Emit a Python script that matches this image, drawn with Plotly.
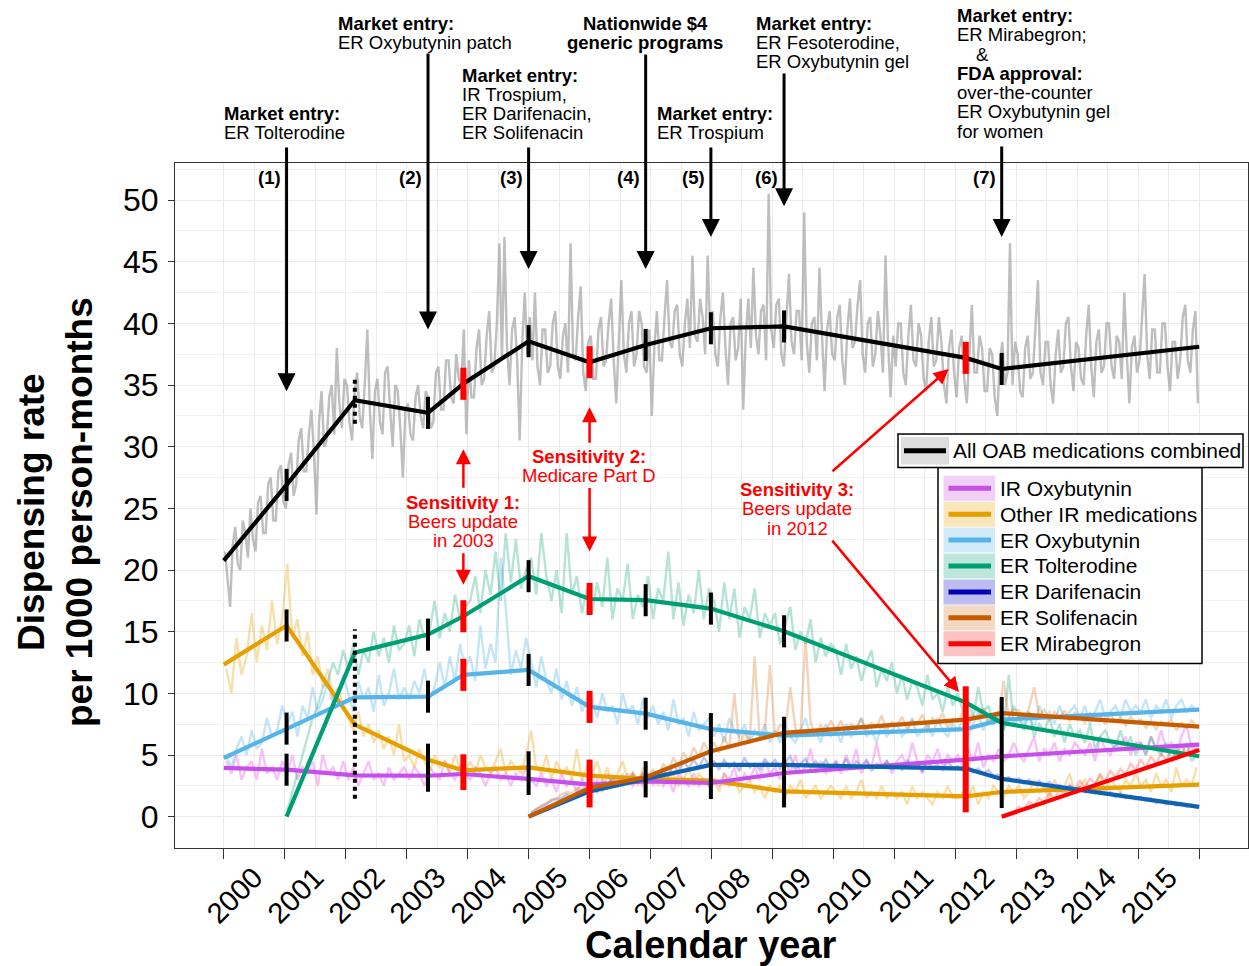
import plotly.graph_objects as go

FONT = "Liberation Sans, Arial, Helvetica, sans-serif"

# ---------------------------------------------------------------------------
# Segment boundaries of the segmented-regression fit (decimal calendar year)
# ---------------------------------------------------------------------------
breaks = [2000.0, 2001.03, 2002.15, 2003.35, 2003.93, 2005.0, 2006.0,
          2006.92, 2007.99, 2009.19, 2012.17, 2012.76, 2016.0]
break_kind = ["edge", "event", "dotted", "event", "sens", "event", "sens",
              "event", "event", "event", "sens", "event", "edge"]

# fitted dispensing rate at each boundary (None = product not yet marketed)
fit_all = [20.76, 26.9, 33.76, 32.74, 35.1, 38.55, 36.85, 38.25, 39.6, 39.75, 37.2, 36.3, 38.1]
fit_ir_oxy = [3.95, 3.81, 3.35, 3.32, 3.46, 3.06, 2.6, 2.86, 2.73, 3.54, 4.62, 4.89, 5.84]
fit_other_ir = [12.33, 15.5, 7.46, 4.62, 3.76, 4.0, 3.33, 3.06, 2.92, 2.05, 1.65, 2.0, 2.6]
fit_er_oxy = [4.76, 7.14, 9.68, 9.73, 11.5, 11.9, 8.9, 8.35, 7.1, 6.57, 7.1, 7.87, 8.68]
fit_er_tolt = [None, 0.0, 13.3, 14.76, 16.25, 19.5, 17.65, 17.55, 16.87, 15.03, 9.27, 7.6, 4.9]
fit_er_darif = [None, None, None, None, None, 0.0, 2.05, 3.06, 4.2, 4.2, 3.9, 3.06, 0.79]
fit_er_solif = [None, None, None, None, None, 0.0, 2.33, 3.2, 5.3, 6.8, 7.87, 8.4, 7.3]
fit_er_mira = [None, None, None, None, None, None, None, None, None, None, None, 0.0, 5.4]

# ---------------------------------------------------------------------------
# Observed dispensing rates per 1000 person-months
# ---------------------------------------------------------------------------
# all OAB medications: two observations per month, January 2000 onwards
all_oab_semimonthly = [
    21.5, 19.5, 17.0, 22.0, 23.5, 20.5, 20.0, 24.0, 23.0, 21.0, 25.0, 22.5,
    21.5, 25.5, 26.0, 23.0, 23.0, 27.0, 27.5, 24.0, 24.0, 28.0, 28.5, 25.5,
    25.0, 28.5, 29.5, 26.0, 27.0, 30.5, 31.5, 28.0, 28.0, 31.0, 33.0, 29.5,
    24.5, 32.0, 34.5, 30.0, 30.5, 34.0, 35.0, 31.0, 38.0, 33.5, 31.5, 35.5,
    35.0, 32.0, 30.5, 34.5, 36.0, 32.5, 31.5, 35.0, 39.5, 33.0, 29.0, 34.5,
    35.5, 32.0, 31.0, 36.0, 36.5, 33.0, 30.0, 35.0, 34.5, 31.5, 27.5, 33.0,
    33.5, 31.0, 30.5, 34.0, 35.0, 32.5, 31.5, 34.5, 34.0, 31.5, 32.0, 36.0,
    36.5, 33.0, 33.0, 37.0, 37.0, 34.0, 33.5, 37.5, 35.5, 35.0, 39.5, 31.0,
    37.0, 34.0, 34.0, 38.0, 39.5, 35.0, 35.5, 39.0, 41.0, 36.0, 36.5, 40.0,
    46.5, 37.0, 47.0, 38.0, 35.0, 39.5, 40.5, 37.0, 30.5, 38.5, 42.5, 37.5,
    40.5, 37.0, 42.5, 36.5, 35.0, 39.5, 39.5, 36.0, 36.5, 40.0, 41.0, 36.5,
    35.5, 39.0, 40.0, 36.0, 46.5, 37.5, 37.0, 40.5, 43.0, 36.0, 34.5, 38.5,
    39.0, 35.5, 35.5, 39.5, 40.5, 36.5, 37.0, 40.0, 42.0, 37.0, 33.5, 38.5,
    43.5, 37.5, 36.0, 40.0, 41.0, 36.5, 37.5, 41.0, 40.0, 36.5, 36.0, 39.5,
    32.5, 38.0, 41.0, 37.0, 37.0, 40.5, 43.5, 38.5, 38.0, 41.0, 41.5, 37.5,
    36.5, 40.0, 42.0, 38.0, 45.5, 39.0, 38.5, 42.0, 40.5, 37.5, 45.5, 39.0,
    41.0, 37.5, 36.5, 40.5, 42.5, 38.0, 35.0, 40.0, 40.5, 37.0, 38.0, 42.0,
    33.0, 39.0, 42.0, 38.0, 44.5, 39.0, 37.5, 41.0, 41.5, 37.0, 50.5, 39.5,
    38.0, 41.5, 42.0, 37.5, 36.5, 40.5, 44.0, 38.5, 37.5, 41.0, 41.0, 37.0,
    49.0, 38.5, 36.0, 40.0, 40.5, 37.0, 44.5, 39.0, 34.5, 39.5, 41.0, 37.5,
    37.0, 40.5, 41.5, 37.0, 35.0, 39.5, 42.0, 38.0, 38.5, 41.5, 43.5, 37.5,
    36.0, 40.0, 40.5, 36.5, 37.5, 41.0, 39.0, 36.0, 45.5, 38.5, 34.0, 39.0,
    36.5, 40.0, 40.0, 36.0, 35.0, 39.0, 41.5, 37.0, 36.5, 40.0, 39.0, 35.5,
    34.5, 38.5, 40.5, 36.5, 37.0, 40.5, 38.5, 35.0, 33.5, 38.0, 39.5, 36.0,
    34.0, 38.0, 39.0, 35.5, 33.5, 37.5, 41.5, 36.0, 36.0, 39.0, 38.0, 34.5,
    34.5, 38.0, 37.5, 34.0, 32.5, 37.0, 38.5, 35.0, 36.0, 46.5, 35.0, 38.5,
    37.5, 34.5, 34.0, 38.0, 39.0, 35.5, 36.0, 39.5, 43.5, 36.0, 35.0, 38.5,
    38.5, 35.0, 33.5, 37.5, 39.5, 36.0, 36.5, 40.0, 40.5, 36.5, 34.5, 38.5,
    38.0, 35.5, 35.0, 39.0, 41.5, 36.5, 34.0, 38.5, 39.5, 36.0, 36.5, 40.0,
    40.0, 36.5, 35.5, 39.0, 38.5, 35.5, 42.5, 37.5, 33.5, 38.0, 39.0, 36.0,
    37.0, 40.5, 44.0, 37.5, 35.5, 39.5, 39.5, 36.0, 36.0, 40.0, 40.0, 36.5,
    34.5, 38.5, 38.5, 35.5, 37.0, 40.5, 41.5, 37.0, 36.0, 39.5, 41.0, 33.5,
]
# single products: one observation per month
ir_oxy_monthly = [
    4.5, 3.5, 5.0, 3.0, 4.0, 4.5, 3.0, 5.5, 3.5, 4.0, 3.0, 4.5,
    3.5, 5.0, 3.0, 4.0, 3.5, 4.5, 2.5, 5.0, 3.5, 4.0, 3.0, 4.5,
    3.0, 4.0, 2.5, 3.5, 4.5, 3.0, 3.5, 2.5, 4.0, 3.0, 3.5, 4.0,
    3.0, 4.0, 3.5, 2.5, 4.0, 3.5, 3.0, 4.5, 3.5, 3.0, 4.0, 3.5,
    3.0, 4.0, 3.5, 2.5, 3.5, 4.0, 3.0, 3.5, 2.5, 3.5, 3.0, 4.0,
    3.0, 2.5, 3.5, 2.5, 3.0, 2.0, 3.5, 2.5, 3.0, 2.0, 3.0, 2.5,
    2.5, 3.0, 2.0, 3.5, 2.5, 3.0, 2.5, 3.5, 2.5, 3.0, 2.5, 3.5,
    2.5, 3.5, 2.5, 3.0, 2.0, 3.5, 3.0, 2.5, 3.5, 2.5, 3.0, 2.5,
    3.0, 2.5, 3.5, 3.0, 4.0, 2.5, 3.5, 3.0, 4.0, 3.0, 4.5, 3.5,
    4.0, 3.0, 4.5, 3.5, 5.0, 3.5, 4.0, 5.5, 3.5, 4.5, 3.5, 4.0,
    4.5, 3.5, 5.0, 4.0, 5.5, 3.5, 4.5, 4.0, 6.0, 4.0, 4.5, 3.5,
    4.5, 5.0, 4.0, 6.0, 4.5, 3.5, 5.0, 4.5, 5.5, 4.0, 5.0, 4.5,
    5.0, 4.0, 5.5, 4.5, 6.0, 4.0, 5.0, 4.5, 5.5, 4.5, 5.0, 6.0,
    5.0, 4.5, 5.5, 6.5, 4.5, 5.5, 5.0, 6.0, 4.5, 5.5, 5.0, 6.0,
    5.5, 5.0, 6.0, 4.5, 6.5, 5.5, 5.0, 6.0, 5.5, 6.5, 5.0, 6.0,
    6.0, 5.0, 6.5, 5.5, 7.0, 5.5, 6.0, 5.0, 6.5, 7.5, 5.5, 6.0,
]
other_ir_monthly = [
    12.0, 10.0, 14.5, 11.5, 13.0, 16.5, 12.5, 15.5, 13.5, 17.5, 14.0, 16.0,
    20.5, 14.5, 16.0, 13.0, 15.0, 11.5, 13.0, 10.5, 12.0, 9.5, 10.5, 9.0,
    8.0, 7.0, 8.5, 6.5, 7.5, 6.0, 7.0, 5.5, 6.5, 5.0, 7.5, 4.5,
    5.0, 4.0, 5.5, 4.5, 3.5, 5.0, 4.0, 4.5, 3.5, 5.0, 4.0, 3.5,
    4.5, 3.5, 5.0, 4.0, 3.5, 4.5, 5.5, 3.5, 4.5, 4.0, 3.5, 5.0,
    7.0, 4.0, 3.5, 5.0, 3.0, 4.5, 3.5, 4.0, 3.0, 5.5, 3.0, 4.0,
    3.5, 4.5, 3.0, 4.0, 2.5, 3.5, 4.5, 3.0, 3.5, 2.5, 4.0, 3.0,
    3.5, 2.5, 4.0, 3.0, 3.5, 2.5, 3.0, 4.0, 2.5, 3.5, 3.0, 2.5,
    3.0, 2.0, 3.5, 2.5, 3.0, 2.0, 2.5, 3.0, 2.0, 2.5, 1.5, 2.5,
    2.0, 2.5, 1.5, 2.5, 2.0, 3.0, 1.5, 2.0, 2.5, 1.5, 2.0, 2.5,
    2.0, 1.5, 2.5, 1.5, 2.0, 3.0, 1.5, 2.0, 1.5, 2.5, 1.5, 2.0,
    1.5, 2.0, 1.0, 2.5, 1.5, 2.0, 1.5, 1.0, 2.0, 1.5, 2.5, 1.5,
    1.5, 2.0, 1.5, 2.5, 1.0, 2.0, 1.5, 2.5, 2.0, 1.5, 2.5, 2.0,
    2.5, 1.5, 2.0, 3.0, 2.0, 2.5, 1.5, 3.0, 2.0, 2.5, 3.5, 2.0,
    2.5, 3.0, 2.0, 2.5, 3.5, 2.0, 3.0, 2.5, 2.0, 3.0, 2.5, 3.5,
    2.5, 3.0, 2.0, 3.5, 2.5, 3.0, 2.0, 4.0, 2.5, 3.0, 2.5, 4.0,
]
er_oxy_monthly = [
    5.0, 4.0, 5.5, 6.5, 5.0, 7.0, 5.5, 6.0, 8.0, 6.5, 7.0, 9.0,
    7.5, 8.5, 6.5, 9.0, 8.0, 10.5, 8.5, 9.5, 11.0, 9.0, 10.0, 11.5,
    10.0, 8.5, 11.0, 9.5, 10.5, 8.5, 11.5, 9.0, 10.0, 12.0, 9.5, 10.5,
    9.5, 11.0, 10.0, 12.0, 9.5, 10.5, 12.5, 10.5, 13.0, 11.0, 14.0, 12.0,
    13.0, 11.0, 15.5, 12.0, 14.0, 12.5, 21.0, 17.0, 11.5, 13.5, 12.0, 14.5,
    12.5, 10.5, 13.0, 11.0, 10.0, 12.0, 9.5, 11.0, 9.0, 10.5, 8.5, 9.5,
    9.5, 8.0, 10.0, 8.5, 9.0, 7.5, 10.0, 8.5, 9.0, 7.5, 9.5, 8.0,
    9.0, 7.5, 8.5, 7.0, 9.5, 7.5, 8.0, 6.5, 8.5, 7.0, 7.5, 8.0,
    6.5, 7.5, 6.0, 8.0, 7.0, 6.5, 7.5, 6.0, 7.0, 6.5, 7.5, 6.0,
    7.0, 6.0, 7.5, 6.5, 6.0, 7.0, 8.0, 6.5, 7.0, 6.0, 7.5, 6.5,
    7.0, 6.0, 7.5, 6.5, 7.0, 8.0, 6.5, 7.0, 6.0, 7.5, 6.5, 7.0,
    7.5, 6.5, 7.0, 8.0, 6.5, 7.0, 7.5, 6.5, 8.0, 7.0, 6.5, 7.5,
    7.0, 8.0, 6.5, 7.5, 8.5, 7.0, 8.0, 7.5, 8.5, 7.0, 8.0, 9.0,
    8.0, 7.5, 8.5, 7.0, 9.0, 8.0, 8.5, 7.5, 9.0, 8.0, 8.5, 9.0,
    8.0, 9.0, 7.5, 8.5, 9.5, 8.0, 8.5, 9.0, 8.0, 9.5, 8.5, 9.0,
    8.5, 9.5, 8.0, 9.0, 8.5, 9.5, 8.0, 9.0, 9.5, 8.5, 9.0, 8.5,
]
er_tolt_monthly = [  # from January 2001
    0.5, 2.0, 3.5, 5.0, 6.5, 8.0, 9.0, 10.5, 11.0, 12.5, 11.5, 13.5,
    12.0, 14.0, 11.5, 13.5, 12.5, 15.0, 13.0, 14.5, 12.5, 15.5, 13.5, 14.0,
    15.5, 13.0, 16.0, 14.5, 15.0, 17.5, 14.5, 16.5, 15.0, 18.0, 16.0, 17.0,
    17.5, 19.5, 16.5, 20.0, 18.0, 21.5, 17.5, 23.0, 19.0, 22.5, 18.5, 20.0,
    21.0, 18.0, 23.0, 19.5, 17.5, 20.0, 16.5, 23.0, 18.0, 19.5, 16.5, 18.5,
    16.5, 19.0, 17.0, 21.0, 16.0, 18.5, 17.5, 20.5, 16.0, 18.0, 17.0, 19.5,
    16.0, 18.5, 17.5, 21.5, 16.0, 19.0, 15.5, 18.0, 16.5, 20.0, 16.0, 18.5,
    17.5, 15.0, 19.0, 16.0, 18.5, 14.5, 17.0, 16.0, 18.5, 14.5, 16.5, 15.5,
    16.5, 14.0, 15.5, 17.0, 13.5, 15.0, 14.0, 16.0, 12.5, 14.5, 13.0, 14.0,
    13.5, 11.5, 14.0, 12.0, 13.0, 11.0, 12.5, 13.5, 10.5, 12.0, 11.0, 12.5,
    10.0, 11.5, 9.5, 11.0, 10.5, 9.0, 11.5, 9.5, 10.0, 8.5, 10.5, 9.0,
    10.0, 8.5, 9.5, 8.0, 10.5, 8.5, 9.0, 7.5, 8.5, 7.0, 11.5, 7.5,
    8.0, 7.0, 8.5, 6.5, 7.5, 7.0, 8.0, 6.5, 7.5, 6.0, 7.5, 6.5,
    7.0, 6.0, 7.5, 5.5, 6.5, 7.0, 6.0, 5.5, 7.0, 5.5, 6.5, 5.0,
    6.0, 5.0, 6.5, 5.5, 5.0, 6.0, 4.5, 5.5, 5.0, 6.0, 4.5, 5.0,
]
er_darif_monthly = [  # from January 2005
    0.3, 0.6, 0.8, 1.0, 1.3, 1.4, 1.5, 1.8, 1.6, 2.0, 2.1, 2.3,
    2.5, 2.0, 2.8, 2.3, 3.0, 2.5, 3.2, 2.7, 3.4, 2.8, 3.5, 3.0,
    3.5, 3.0, 3.8, 3.3, 4.2, 3.6, 4.5, 3.9, 4.6, 4.0, 4.8, 4.2,
    4.5, 3.8, 4.6, 4.0, 4.4, 3.7, 4.8, 4.0, 4.3, 3.8, 4.7, 4.1,
    4.6, 3.9, 4.4, 4.9, 3.8, 4.3, 4.7, 3.9, 4.5, 4.0, 4.6, 3.8,
    4.4, 4.0, 4.7, 3.8, 4.5, 4.1, 4.6, 3.7, 4.3, 4.0, 4.5, 3.9,
    4.2, 3.8, 4.6, 3.9, 4.3, 3.7, 4.4, 4.0, 4.2, 3.8, 4.5, 3.9,
    4.1, 3.7, 4.2, 3.6, 3.9, 3.5, 3.8, 3.3, 3.4, 3.0, 3.2, 2.9,
    3.1, 2.7, 3.0, 2.6, 2.9, 2.5, 2.8, 2.4, 2.6, 2.3, 2.5, 2.2,
    2.4, 2.0, 2.3, 1.9, 2.1, 1.8, 2.0, 1.6, 1.9, 1.5, 1.7, 1.4,
    1.6, 1.3, 1.5, 1.1, 1.3, 1.0, 1.2, 0.9, 1.1, 0.8, 1.0, 0.7,
]
er_solif_monthly = [  # from January 2005
    0.3, 0.6, 0.9, 1.1, 1.4, 1.5, 1.8, 2.0, 1.9, 2.3, 2.2, 2.6,
    2.8, 2.3, 3.0, 2.5, 3.2, 2.7, 3.4, 2.8, 3.6, 3.0, 3.5, 3.3,
    3.8, 3.2, 4.3, 3.7, 4.8, 4.0, 5.2, 4.5, 5.6, 4.8, 6.0, 5.2,
    6.0, 5.2, 6.5, 5.5, 10.0, 5.8, 6.8, 6.0, 13.0, 6.2, 7.0, 12.3,
    6.5, 7.5, 6.9, 10.5, 7.2, 6.6, 14.5, 7.6, 6.6, 7.4, 6.9, 7.8,
    7.0, 7.8, 6.6, 7.5, 7.2, 8.0, 6.9, 7.6, 7.3, 8.2, 7.0, 7.7,
    7.4, 8.1, 7.0, 7.8, 7.5, 8.3, 7.1, 8.0, 7.6, 8.4, 7.2, 7.9,
    7.7, 8.5, 7.4, 8.2, 7.9, 8.8, 7.6, 8.3, 8.0, 11.0, 8.1, 8.7,
    8.6, 7.9, 8.8, 10.5, 8.2, 8.7, 7.8, 8.5, 8.0, 8.6, 7.7, 8.4,
    8.1, 7.6, 8.4, 7.8, 8.2, 7.5, 8.3, 7.7, 8.0, 7.4, 8.1, 7.6,
    7.9, 7.2, 7.8, 7.1, 7.7, 7.4, 7.9, 7.0, 7.6, 7.2, 7.8, 7.3,
]
er_mira_monthly = [  # from October 2012
    0.1, 0.3, 0.4,
    0.8, 0.6, 1.2, 0.9, 1.5, 1.2, 1.9, 1.5, 2.2, 1.8, 2.6, 2.2,
    2.9, 2.4, 3.1, 2.7, 3.4, 2.9, 3.7, 3.2, 3.9, 3.4, 4.3, 3.8,
    4.6, 4.0, 4.9, 4.3, 5.1, 4.6, 5.5, 4.8, 5.8, 5.1, 6.0, 5.4,
]

years = list(range(2000, 2016))
year_labels = [str(y) for y in years]
y_ticks = list(range(0, 51, 5))

# key, label, fit, observed values, first year, first period index, periods per year
series = [
    ("all", "All OAB medications combined", fit_all, all_oab_semimonthly, 2000, 0, 24),
    ("ir_oxy", "IR Oxybutynin", fit_ir_oxy, ir_oxy_monthly, 2000, 0, 12),
    ("other_ir", "Other IR medications", fit_other_ir, other_ir_monthly, 2000, 0, 12),
    ("er_oxy", "ER Oxybutynin", fit_er_oxy, er_oxy_monthly, 2000, 0, 12),
    ("er_tolt", "ER Tolterodine", fit_er_tolt, er_tolt_monthly, 2001, 0, 12),
    ("er_darif", "ER Darifenacin", fit_er_darif, er_darif_monthly, 2005, 0, 12),
    ("er_solif", "ER Solifenacin", fit_er_solif, er_solif_monthly, 2005, 0, 12),
    ("er_mira", "ER Mirabegron", fit_er_mira, er_mira_monthly, 2012, 9, 12),
]

style = {
    "all":      dict(line="#000000", noise="rgba(150,150,150,0.62)", key_line="#000000", key_bg="#dedede"),
    "ir_oxy":   dict(line="#c64ee9", noise="rgba(238,100,238,0.40)", key_line="#c64ee9", key_bg="#f2cff7"),
    "other_ir": dict(line="#e69f00", noise="rgba(230,159,0,0.32)",   key_line="#e69f00", key_bg="#f9e6ba"),
    "er_oxy":   dict(line="#56b4e9", noise="rgba(86,180,233,0.34)",  key_line="#56b4e9", key_bg="#d3eaf8"),
    "er_tolt":  dict(line="#009e73", noise="rgba(0,158,115,0.29)",   key_line="#009e73", key_bg="#bfe6da"),
    "er_darif": dict(line="#0f62b2", noise="rgba(50,60,200,0.30)",   key_line="#0000b0", key_bg="#bdbdf0"),
    "er_solif": dict(line="#c65c00", noise="rgba(213,120,40,0.32)",  key_line="#c65c00", key_bg="#f3d8c2"),
    "er_mira":  dict(line="#ff0000", noise="rgba(255,60,60,0.30)",   key_line="#ff0000", key_bg="#ffc2c2"),
}
fits = {s[0]: s[2] for s in series}

# series sharing one segment marker at each boundary
lower_early = ["other_ir", "ir_oxy"]
lower_mid = ["other_ir", "ir_oxy", "er_solif", "er_darif"]
lower_late = ["er_oxy", "er_solif", "er_darif", "other_ir", "ir_oxy"]
marker_groups = {
    1: [["all"], ["other_ir"], ["er_oxy"], ["ir_oxy"]],
    2: [["all"], ["er_tolt", "er_oxy", "other_ir", "ir_oxy"]],
    3: [["all"], ["er_tolt"], ["er_oxy"], lower_early],
    4: [["all"], ["er_tolt"], ["er_oxy"], lower_early],
    5: [["all"], ["er_tolt"], ["er_oxy"], lower_early],
    6: [["all"], ["er_tolt"], ["er_oxy"], lower_mid],
    7: [["all"], ["er_tolt"], ["er_oxy"], lower_mid],
    8: [["all"], ["er_tolt"], lower_late],
    9: [["all"], ["er_tolt"], lower_late],
    10: [["all"], ["er_tolt"] + lower_late],
    11: [["all"], ["er_tolt"] + lower_late],
}

# ---------------------------------------------------------------------------
# Geometry of the plotting panel (pixels) and axis ranges
# ---------------------------------------------------------------------------
W, H = 1249, 966
L, R, T, B = 175, 1248, 163, 848
XR = [1999.2, 2016.8]
YR = [-2.54, 53.0]


def fx(px):
    return (px - L) / (R - L)


def fy(py):
    return (B - py) / (B - T)


def ypix(v):
    return T + (YR[1] - v) / (YR[1] - YR[0]) * (B - T)


fig = go.Figure()

# observed series
for key, label, fit, obs, y0, p0, per_year in series:
    xs = [y0 + (p0 + i + 0.5) / per_year for i in range(len(obs))]
    fig.add_trace(go.Scatter(
        x=xs, y=obs, mode="lines",
        line=dict(color=style[key]["noise"], width=2.4),
        hoverinfo="skip", showlegend=False))

# fitted segmented trends
draw_order = ["other_ir", "er_oxy", "ir_oxy", "er_darif", "er_solif", "er_tolt", "er_mira", "all"]
for key in draw_order:
    fit = fits[key]
    xs = [b for b, v in zip(breaks, fit) if v is not None]
    ys = [v for v in fit if v is not None]
    fig.add_trace(go.Scatter(
        x=xs, y=ys, mode="lines",
        line=dict(color=style[key]["line"], width=4.2),
        hoverinfo="skip", showlegend=False))

# segment markers at every boundary
marks = {"event": ([], []), "sens": ([], []), "dotted": ([], [])}
for i, groups in marker_groups.items():
    kind = break_kind[i]
    pad = 1.9 if kind == "dotted" else 1.3
    for g in groups:
        vals = [fits[k][i] for k in g if fits[k][i] is not None]
        xs, ys = marks[kind]
        xs += [breaks[i], breaks[i], None]
        ys += [min(vals) - pad, max(vals) + pad, None]

fig.add_trace(go.Scatter(x=marks["event"][0], y=marks["event"][1], mode="lines",
                         line=dict(color="black", width=4), hoverinfo="skip", showlegend=False))
fig.add_trace(go.Scatter(x=marks["dotted"][0], y=marks["dotted"][1], mode="lines",
                         line=dict(color="black", width=4, dash="dot"), hoverinfo="skip", showlegend=False))
fig.add_trace(go.Scatter(x=marks["sens"][0], y=marks["sens"][1], mode="lines",
                         line=dict(color="#ff0000", width=6), hoverinfo="skip", showlegend=False))

annotations = []
shapes = []
TXT = 18.5


def text_line(txt, px, py, size=TXT, color="black", anchor="left"):
    annotations.append(dict(
        text=txt, x=fx(px), y=fy(py), xref="paper", yref="paper",
        xanchor=anchor, yanchor="middle", showarrow=False,
        font=dict(family=FONT, size=size, color=color)))


def text_block(lines, px, py, step=19.3, anchor="left", color="black", size=TXT):
    for j, t in enumerate(lines):
        if isinstance(t, tuple):
            text_line(t[0], t[1], py + j * step, size=size, color=color, anchor="center")
        elif t:
            text_line(t, px, py + j * step, size=size, color=color, anchor=anchor)


# event annotations above the panel
text_block(["<b>Market entry:</b>", "ER Tolterodine"], 222, 113.5)
text_block(["<b>Market entry:</b>", "ER Oxybutynin patch"], 336, 23)
text_block(["<b>Market entry:</b>", "IR Trospium,", "ER Darifenacin,", "ER Solifenacin"], 460, 75)
text_block(["<b>Nationwide $4</b>", "<b>generic programs</b>"], 645, 23, anchor="center")
text_block(["<b>Market entry:</b>", "ER Trospium"], 655, 113.5)
text_block(["<b>Market entry:</b>", "ER Fesoterodine,", "ER Oxybutynin gel"], 754, 23)
text_block(["<b>Market entry:</b>", "ER Mirabegron;", ("&amp;", 982), "<b>FDA approval:</b>",
            "over-the-counter", "ER Oxybutynin gel", "for women"], 955, 15.5)

event_years = [b for b, k in zip(breaks, break_kind) if k == "event"]
arrow_tips = [34.5, 39.5, 44.4, 44.4, 47.0, 49.5, 47.0]
arrow_tails_px = [146, 52, 146, 53, 146, 72, 145]
for n, (ex, tip, tail) in enumerate(zip(event_years, arrow_tips, arrow_tails_px), start=1):
    annotations.append(dict(
        x=ex, y=tip, xref="x", yref="y", ax=0, ay=tail - ypix(tip), text="",
        showarrow=True, arrowhead=2, arrowsize=1.2, arrowwidth=3, arrowcolor="black", standoff=0))
    annotations.append(dict(
        text=f"<b>({n})</b>", x=ex, y=fy(178), xref="x", yref="paper",
        xanchor="right", yanchor="middle", xshift=-4, showarrow=False,
        font=dict(family=FONT, size=TXT, color="black")))

# sensitivity analyses
RED = "#ff0000"
text_block(["<b>Sensitivity 1:</b>", "Beers update", "in 2003"], 463, 502, anchor="center", color=RED)
text_block(["<b>Sensitivity 2:</b>", "Medicare Part D"], 589, 456.5, anchor="center", color=RED)
text_block(["<b>Sensitivity 3:</b>", "Beers update", "in 2012"], 797, 489.5, anchor="center", color=RED)

s1, s2, s3 = [b for b, k in zip(breaks, break_kind) if k == "sens"]
for bx, tip, off in [(s1, 29.8, 40), (s1, 18.8, -33), (s2, 33.2, 37), (s2, 21.5, -65)]:
    annotations.append(dict(
        x=bx, y=tip, xref="x", yref="y", ax=0, ay=off, text="",
        showarrow=True, arrowhead=2, arrowsize=1.2, arrowwidth=2.5, arrowcolor=RED, standoff=0))
for tip_x, tip_y, tail_x, tail_y in [(s3 - 0.28, 36.3, 2009.96, 27.9), (s3 - 0.11, 10.1, 2009.96, 22.5)]:
    annotations.append(dict(
        x=tip_x, y=tip_y, xref="x", yref="y", ax=tail_x, ay=tail_y, axref="x", ayref="y",
        text="", showarrow=True, arrowhead=2, arrowsize=1.2, arrowwidth=2.5, arrowcolor=RED, standoff=0))

# axis titles
annotations.append(dict(
    text="<b>Dispensing rate<br>per 1000 person-months</b>", textangle=-90,
    x=fx(55), y=fy(512), xref="paper", yref="paper", xanchor="center", yanchor="middle",
    showarrow=False, font=dict(family=FONT, size=37, color="black")))
annotations.append(dict(
    text="<b>Calendar year</b>", x=fx(711), y=fy(945), xref="paper", yref="paper",
    xanchor="center", yanchor="middle", showarrow=False,
    font=dict(family=FONT, size=38, color="black")))


# legend boxes
def rect(x0, y0, x1, y1, fill, line_color=None, lw=0):
    shapes.append(dict(type="rect", xref="paper", yref="paper",
                       x0=fx(x0), x1=fx(x1), y0=fy(y1), y1=fy(y0),
                       fillcolor=fill, line=dict(color=line_color or fill, width=lw)))


def hline(x0, x1, y, color, lw):
    shapes.append(dict(type="line", xref="paper", yref="paper",
                       x0=fx(x0), x1=fx(x1), y0=fy(y), y1=fy(y),
                       line=dict(color=color, width=lw)))


LEG = 21
rect(938, 467.5, 1202, 663.5, "white", "black", 1.5)
rect(898, 434, 1243, 467.5, "white", "black", 1.5)
rect(901, 437, 949, 464.5, style["all"]["key_bg"])
hline(904, 946, 450.7, style["all"]["key_line"], 5)
text_line(series[0][1], 951, 451, size=LEG)

for i, (key, label, *_rest) in enumerate(series[1:]):
    top = 475.7 + i * 25.93
    mid = top + 12.5
    rect(943.5, top, 995, top + 25, style[key]["key_bg"])
    hline(948.5, 991, mid, style[key]["key_line"], 5)
    text_line(label, 998, mid, size=LEG)

fig.update_layout(
    width=W, height=H,
    margin=dict(l=L, r=W - R, t=T, b=H - B),
    paper_bgcolor="white", plot_bgcolor="white",
    showlegend=False,
    font=dict(family=FONT, color="black"),
    xaxis=dict(
        range=XR, tickmode="array", tickvals=[y + 0.5 for y in years], ticktext=year_labels,
        tickangle=-45, ticks="", tickfont=dict(size=29, color="black"),
        showgrid=True, gridcolor="#ebebeb", gridwidth=1, zeroline=False,
        showline=True, mirror=True, linecolor="#333333", linewidth=1,
        minor=dict(tickmode="linear", tick0=2000, dtick=1, ticks="outside", ticklen=10,
                   tickcolor="#333333", tickwidth=1, showgrid=True, gridcolor="#ebebeb"),
    ),
    yaxis=dict(
        range=YR, tickmode="array", tickvals=y_ticks, ticks="outside", ticklen=6,
        tickcolor="#333333", tickfont=dict(size=32, color="black"), ticklabelstandoff=3,
        showgrid=True, gridcolor="#ebebeb", gridwidth=1, zeroline=False,
        showline=True, mirror=True, linecolor="#333333", linewidth=1,
        minor=dict(tickmode="linear", tick0=0, dtick=2.5, ticks="", showgrid=True,
                   gridcolor="#f1f1f1"),
    ),
    annotations=annotations,
    shapes=shapes,
)

fig.write_html("out.html")
